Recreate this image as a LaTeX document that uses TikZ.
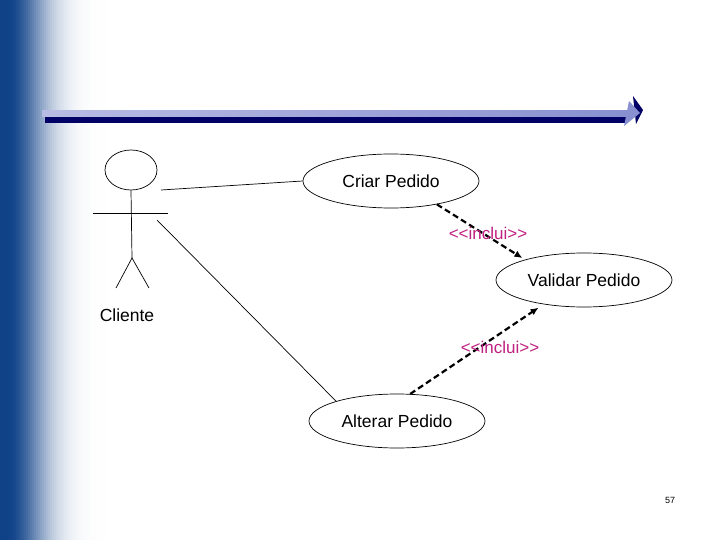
\documentclass[tikz,border=0pt]{standalone}
\usepackage{fontspec}
\setmainfont{Liberation Sans}
\newfontfamily\plainfont{Liberation Sans}
\usetikzlibrary{arrows.meta,shapes.geometric}
\definecolor{sidebar}{RGB}{16,66,136}
\definecolor{navy}{RGB}{0,0,102}
\definecolor{lavL}{RGB}{184,188,228}
\definecolor{lavR}{RGB}{136,144,208}
\definecolor{incl}{RGB}{192,32,128}
\begin{document}
\begin{tikzpicture}[x=1pt,y=-1pt,
  uc/.style={draw, ellipse, minimum width=176pt, minimum height=54pt, inner sep=0pt,
    line width=0.7pt, font=\plainfont\fontsize{17.5}{20}\selectfont},
  thinline/.style={line width=0.7pt},
  inclarrow/.style={line width=2.2pt, dash pattern=on 6pt off 3.5pt,
    -{Latex[length=8pt,width=7pt]}, shorten >=3pt},
  incllabel/.style={text=incl, font=\plainfont\fontsize{17}{18}\selectfont, inner sep=1pt}]
\useasboundingbox (0,0) rectangle (720,540);
\fill[white] (0,0) rectangle (720,540);
% left gradient
\foreach \i in {0,...,64}{
  \pgfmathsetmacro\t{(2*max(\i,3)-6)/40}
  \pgfmathsetmacro\p{100*exp(-(\t)*(\t))}
  \fill[sidebar!\p!white] (2*\i,0) rectangle (2*\i+2.5,540);
}
% top bar
\shade[left color=lavL, right color=lavR] (42,111) rectangle (628,117);
\fill[navy] (45,117) rectangle (626,123);
\fill[navy] (633,96) -- (643,110) -- (636,124) -- cycle;
\fill[lavR] (629,101) -- (640,113) -- (624,126) -- cycle;
% use cases
\node[uc] (criar) at (391,181) {Criar Pedido};
\node[uc] (validar) at (584,280) {Validar Pedido};
\node[uc] (alterar) at (397,421) {Alterar Pedido};
% actor
\node[draw, ellipse, thinline, minimum width=52pt, minimum height=40pt, inner sep=0pt] (head) at (131,170) {};
\coordinate (hip) at (132,258);
\coordinate (armL) at (93,213);
\coordinate (armR) at (168,213);
\coordinate (footL) at (116,288);
\coordinate (footR) at (149,288);
\draw[thinline] (head.south) -- (hip);
\draw[thinline] (armL) -- (armR);
\draw[thinline] (footL) -- (hip) -- (footR);
\node[font=\plainfont\fontsize{17.5}{20}\selectfont] (cliente) at (127,315) {Cliente};
% associations
\coordinate (as1) at (161,190);
\coordinate (as2) at (157,220);
\draw[thinline] (as1) -- (criar.west);
\draw[thinline] (as2) -- (alterar.162);
% includes
\draw[inclarrow] (criar.-27) -- (validar.161);
\draw[inclarrow, shorten >=6pt] (alterar.64) -- (validar.211);
\node[incllabel] (l1) at (488,233) {<<inclui>>};
\node[incllabel] (l2) at (500,347) {<<inclui>>};
% page number
\node[font=\plainfont\fontsize{9}{10}\selectfont] (pg) at (670,500) {57};
\end{tikzpicture}
\end{document}
